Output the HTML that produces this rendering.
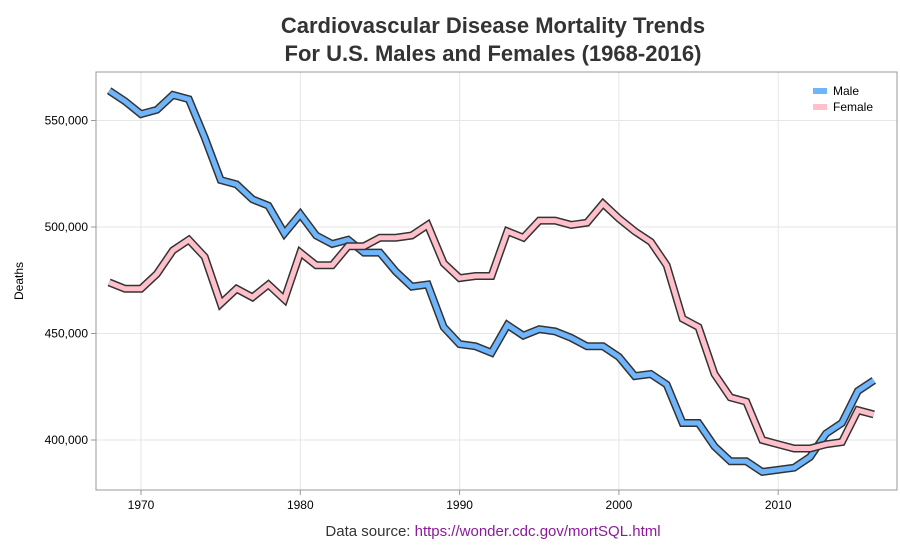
<!DOCTYPE html>
<html><head><meta charset="utf-8"><style>
body{margin:0;background:#fff;font-family:"Liberation Sans",sans-serif}
</style></head><body>
<svg id="chart" width="900" height="550" xmlns="http://www.w3.org/2000/svg" font-family="Liberation Sans, sans-serif">
<text x="493" y="33" text-anchor="middle" font-size="22" font-weight="bold" fill="#333">Cardiovascular Disease Mortality Trends</text>
<text x="493" y="61" text-anchor="middle" font-size="22" font-weight="bold" fill="#333">For U.S. Males and Females (1968-2016)</text>
<g id="grid"></g>
<rect x="96" y="72" width="801" height="418" fill="none" stroke="#999" stroke-width="1"/>
<g id="series"></g>
<g id="axes"></g>
<text transform="translate(23,281) rotate(-90)" text-anchor="middle" font-size="12" fill="#000">Deaths</text>
<g>
<rect x="813" y="88" width="14" height="6" fill="#6eb5fb"/>
<text x="833" y="95" font-size="12" fill="#000">Male</text>
<rect x="813" y="104" width="14" height="6" fill="#ffc0cb"/>
<text x="833" y="111" font-size="12" fill="#000">Female</text>
</g>
<text x="493" y="536" text-anchor="middle" font-size="15" fill="#333">Data source: <tspan fill="#8b1a9b">https://wonder.cdc.gov/mortSQL.html</tspan></text>
</svg>
<script>
const years=[];for(let y=1968;y<=2016;y++)years.push(y);
const male=[564,559,553,555,562,560,542,522,520,513,510,497,506,496,492,494,488,488,479,472,473,453,445,444,441,454,449,452,451,448,444,444,439,430,431,426,408,408,397,390,390,385,386,387,392,403,408,423,428];
const female=[474,471,471,478,489,494,486,464,471,467,473,466,488,482,482,491,491,495,495,496,501,483,476,477,477,498,495,503,503,501,502,511,504,498,493,482,457,453,431,420,418,400,398,396,396,398,399,414,412];
const xTicks=[1970,1980,1990,2000,2010];
const yTicks=[400000,450000,500000,550000];
const NS="http://www.w3.org/2000/svg";
const X=y=>141+(y-1970)*15.93;
const Y=v=>227-(v-500000)/50000*106.5;
const grid=document.getElementById('grid'),axes=document.getElementById('axes'),series=document.getElementById('series');
function mk(tag,attrs,parent){const e=document.createElementNS(NS,tag);for(const k in attrs)e.setAttribute(k,attrs[k]);parent.appendChild(e);return e;}
xTicks.forEach(t=>{
 const g=mk('line',{x1:X(t),x2:X(t),y1:72,y2:490,stroke:'#e6e6e6'},grid);
 
 
 const tk=mk('line',{x1:X(t),x2:X(t),y1:490,y2:495,stroke:'#999'},axes);
 
 
 const l=mk('text',{x:X(t),y:509,'text-anchor':'middle','font-size':12,fill:'#000'},axes);l.textContent=t;
 
 
});
yTicks.forEach(t=>{
 const g=mk('line',{x1:96,x2:897,y1:Y(t),y2:Y(t),stroke:'#e6e6e6'},grid);
 
 
 const tk=mk('line',{x1:91,x2:96,y1:Y(t),y2:Y(t),stroke:'#999'},axes);
 
 
 const l=mk('text',{x:88,y:Y(t)+4,'text-anchor':'end','font-size':12,fill:'#000'},axes);l.textContent=t.toLocaleString('en-US');
 
 
});
function draw(vals,color,name){
 const pts=vals.map((v,i)=>X(years[i]).toFixed(1)+','+Y(v*1000).toFixed(1)).join(' ');
 const o=mk('polyline',{points:pts,fill:'none',stroke:'#333','stroke-width':8,'stroke-linejoin':'miter'},series);
 
 
 const p=mk('polyline',{points:pts,fill:'none',stroke:color,'stroke-width':5,'stroke-linejoin':'miter'},series);
 
 
}
draw(male,'#6eb5fb','male');
draw(female,'#ffc0cb','female');
</script>
</body></html>
